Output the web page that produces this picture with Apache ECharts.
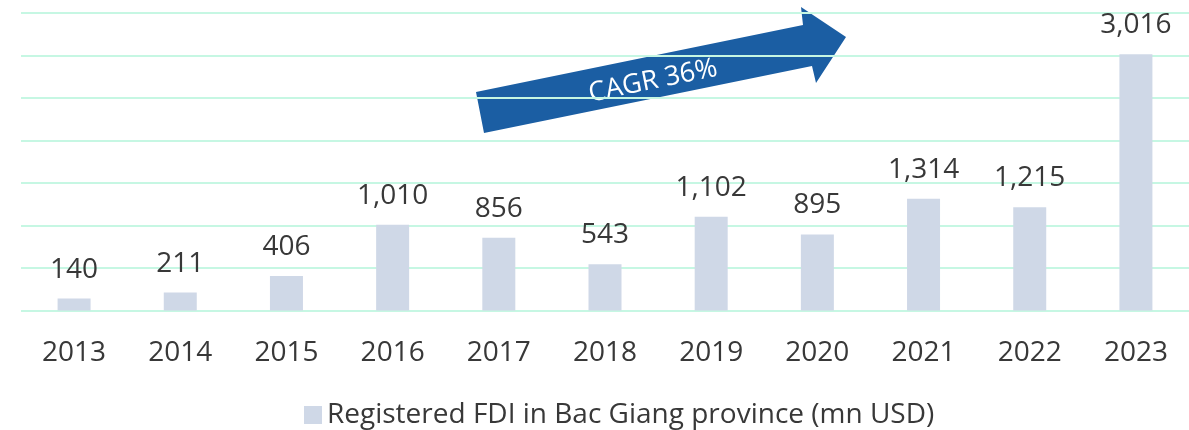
<!DOCTYPE html>
<html>
<head>
<meta charset="utf-8">
<script src="https://cdn.jsdelivr.net/npm/echarts@6/dist/echarts.min.js"></script>
<style>
  html, body { margin: 0; padding: 0; background: #fff; }
  #fdi-chart { width: 1189px; height: 430px; }
</style>
</head>
<body>
<div id="fdi-chart"></div>
<script>
// registered FDI, mn USD
const years = ['2013', '2014', '2015', '2016', '2017', '2018', '2019', '2020', '2021', '2022', '2023']
const fdiValues = [140, 211, 406, 1010, 856, 543, 1102, 895, 1314, 1215, 3016]
const seriesName = 'Registered FDI in Bac Giang province (mn USD)'
const cagrText = 'CAGR 36%'

const myChart = echarts.init(document.getElementById('fdi-chart'))
const textColor = '#383838'
const font = '"Open Sans", sans-serif'

const option = {
  animation: false,
  grid: {
    left: 21,
    top: 13,
    width: 1175,
    height: 297.5
  },
  legend: {
    left: 299,
    top: 396,
    itemWidth: 18,
    itemHeight: 18,
    icon: 'rect',
    textStyle: { fontFamily: font, fontSize: 28, color: textColor },
    data: [seriesName]
  },
  xAxis: {
    type: 'category',
    data: years,
    axisLine: { show: false },
    axisTick: { show: false },
    axisLabel: {
      margin: 29,
      fontFamily: font,
      fontSize: 28,
      color: textColor
    }
  },
  yAxis: {
    type: 'value',
    min: 0,
    max: 3500,
    interval: 500,
    axisLabel: { show: false },
    axisLine: { show: false },
    axisTick: { show: false },
    splitLine: { lineStyle: { color: '#c6f7e3', width: 2 } }
  },
  series: [
    {
      name: seriesName,
      type: 'bar',
      barWidth: 33,
      itemStyle: { color: '#cfd8e7' },
      label: {
        show: true,
        position: 'top',
        distance: 15,
        fontFamily: font,
        fontSize: 28,
        color: textColor,
        formatter: function(p) {
          return p.value.toLocaleString('en-US')
        }
      },
      data: fdiValues
    }
  ],
  graphic: [
    {
      // growth arrow
      type: 'polygon',
      shape: {
        points: [
          [476, 92], [803, 25], [801, 7], [846, 37],
          [816, 83], [812, 66], [484, 133]
        ]
      },
      style: { fill: '#1b5ea3' }
    },
    {
      type: 'text',
      x: 653,
      y: 81,
      rotation: 11.6 * Math.PI / 180,
      style: {
        text: cagrText,
        fill: '#ffffff',
        fontFamily: font,
        fontSize: 27,
        align: 'center',
        verticalAlign: 'middle'
      }
    }
  ]
}

myChart.setOption(option)
window.addEventListener('resize', function() {
  myChart.resize()
})
</script>
</body>
</html>
